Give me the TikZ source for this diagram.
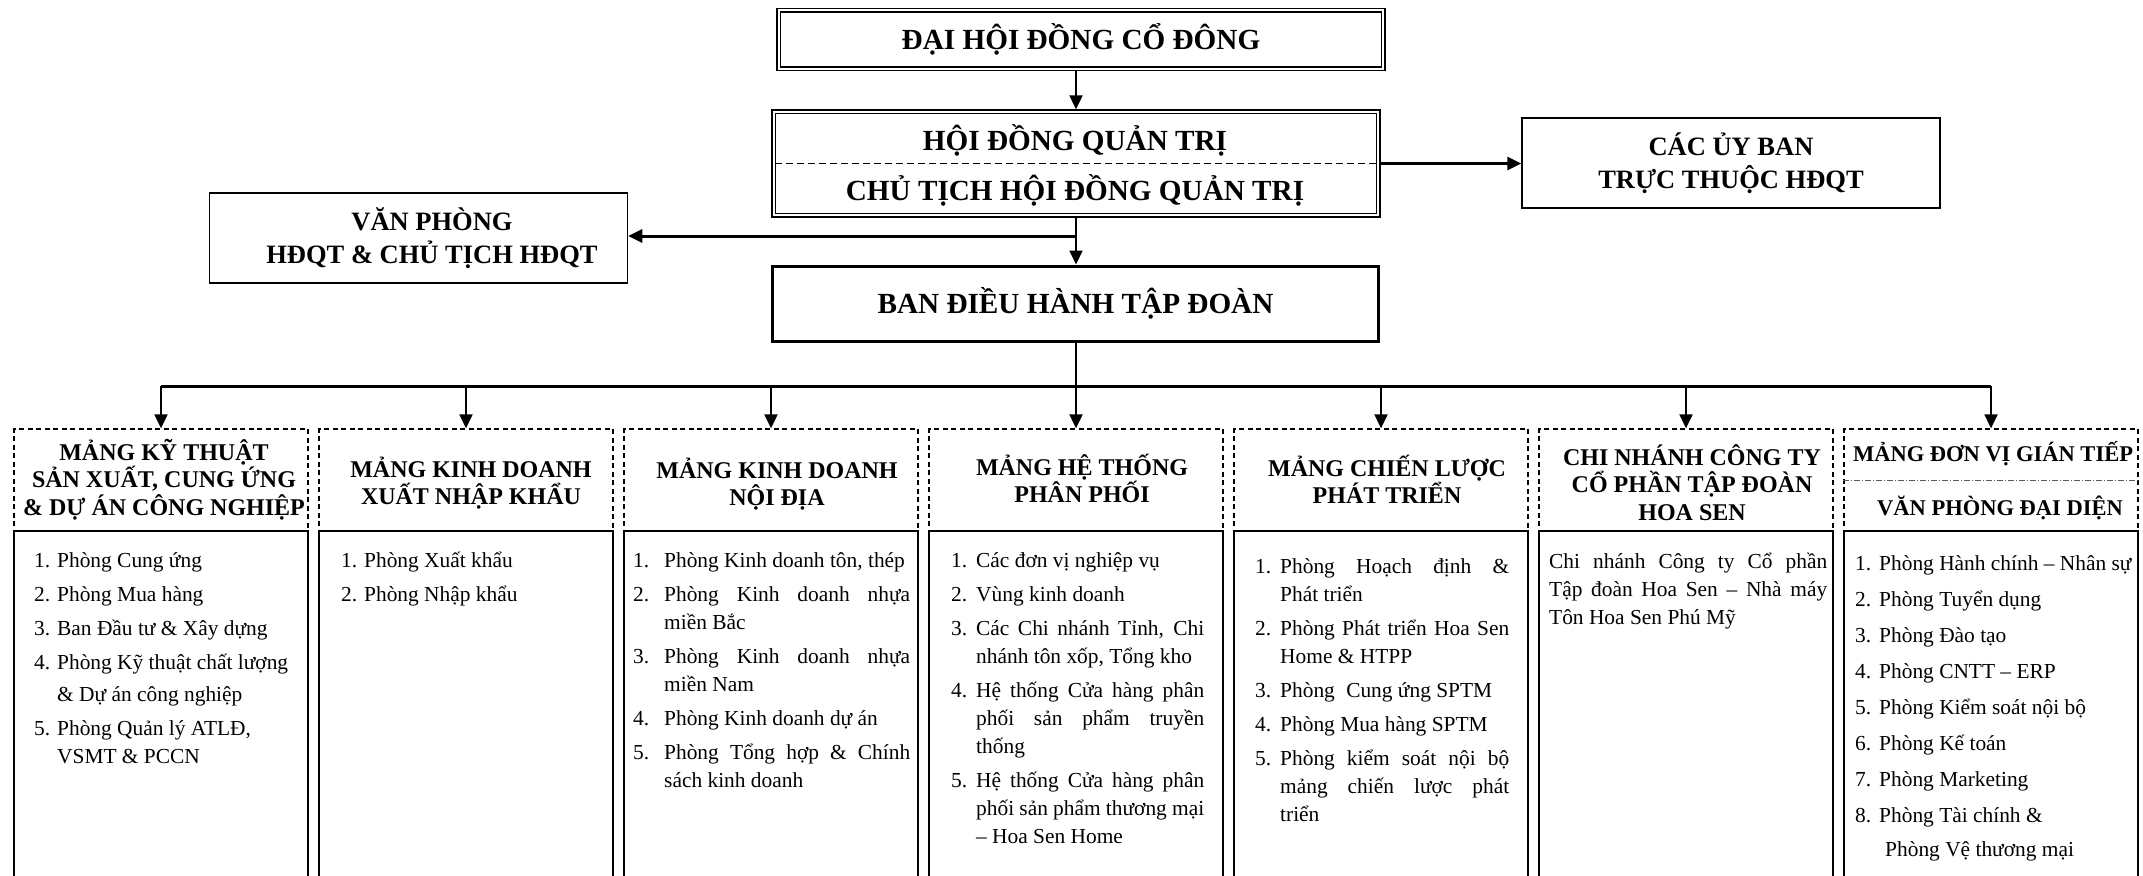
\documentclass[tikz,border=0pt]{standalone}
\usepackage{fontspec}
\setmainfont{Liberation Serif}
\usetikzlibrary{arrows.meta}
\newlength\igap
\setlength\igap{6pt}
\newcommand\jl[1]{\makebox[\linewidth][s]{\strut#1}\par}
\newcommand\lastl[1]{\mbox{\strut#1}\par}
\newcommand\bitem[3]{\noindent\makebox[#1][l]{\strut#2}\parbox[t]{\dimexpr\linewidth-#1\relax}{\lineskiplimit=-30pt\relax#3}\par\prevdepth=\dp\strutbox\vspace{\igap}}
\newcommand\bodyfont{\fontsize{21.4}{28}\selectfont\lineskiplimit=-30pt\relax}
\newcommand\bigfont{\bfseries\fontsize{29.2}{34}\selectfont}
\newcommand\sidefont{\bfseries\fontsize{26.5}{33}\selectfont}
\newcommand\colhead[1]{\begin{minipage}[t]{300pt}\centering\bfseries\fontsize{24}{27.5}\selectfont\lineskiplimit=-30pt\relax #1\end{minipage}}
\begin{document}
\begin{tikzpicture}[x=1pt,y=-1pt,
  arr/.style={-{Triangle[length=14pt,width=13pt]}, line width=2pt},
  bigbox/.style={draw, line width=1.3pt, inner sep=0, minimum width=608pt},
  sidebox/.style={draw, line width=1.5pt, inner sep=0, minimum width=418pt, minimum height=90pt},
  hdbox/.style={draw, dashed, dash pattern=on 5pt off 3.5pt, line width=1.3pt, inner sep=0, minimum width=294pt, minimum height=102pt},
  bodybox/.style={draw, line width=1.5pt, inner sep=0, minimum width=294pt, minimum height=400pt},
  txt/.style={anchor=base, inner sep=0},
  btxt/.style={anchor=base west, inner sep=0}]
\useasboundingbox (0,0) rectangle (2143,875);
\fill[white] (0,0) rectangle (2143,875);
\clip (0,0) rectangle (2143,875);

% top boxes
\node[bigbox, minimum height=62pt, font=\bigfont, text height=19.3pt, text depth=0pt] (dhd) at (1081,39.5) {ĐẠI HỘI ĐỒNG CỔ ĐÔNG};
\draw[line width=1.6pt] ([shift={(4,4)}]dhd.north west) rectangle ([shift={(-4,-4)}]dhd.south east);

\node[bigbox, minimum height=107pt] (hdqt) at (1076,163.5) {};
\draw[line width=1.6pt] ([shift={(4,4)}]hdqt.north west) rectangle ([shift={(-4,-4)}]hdqt.south east);
\draw[dash pattern=on 7pt off 4pt, line width=1.8pt] ([xshift=4pt]hdqt.west) -- ([xshift=-4pt]hdqt.east);
\node[txt, font=\bigfont] (hdqt1) at (1075,150) {HỘI ĐỒNG QUẢN TRỊ};
\node[txt, font=\bigfont] (hdqt2) at (1075,200) {CHỦ TỊCH HỘI ĐỒNG QUẢN TRỊ};

\node[sidebox] (uyban) at (1731,163) {};
\node[txt, font=\sidefont] (uyban1) at (1731,155.5) {CÁC ỦY BAN};
\node[txt, font=\sidefont] (uyban2) at (1731,188.5) {TRỰC THUỘC HĐQT};

\node[sidebox] (vp) at (418.5,238) {};
\node[txt, font=\sidefont] (vp1) at (432,230.5) {VĂN PHÒNG};
\node[txt, font=\sidefont] (vp2) at (432,263.5) {HĐQT \& CHỦ TỊCH HĐQT};

\node[draw, line width=3pt, inner sep=0, minimum width=606pt, minimum height=75pt, font=\bigfont, text height=19.3pt, text depth=0pt] (bdh) at (1075.5,303.5) {BAN ĐIỀU HÀNH TẬP ĐOÀN};

% top connectors
\draw[arr] (hdqt.north |- dhd.south) -- (hdqt.north);
\draw[arr, line width=3pt] (hdqt.east) -- (hdqt.east -| uyban.west);
\draw[arr] (hdqt.south) -- (hdqt.south |- bdh.north);
\coordinate (jn) at (1076,236);
\draw[arr, line width=3pt] (jn) -- (jn -| vp.east);

% column headers
\foreach \i/\cx in {1/161,2/466,3/771,4/1076,5/1381,6/1686,7/1991}{
  \node[hdbox] (h\i) at (\cx,480) {};
  \node[bodybox] (b\i) at (\cx,731) {};
}
\coordinate (s7) at (1991,480);
\draw[line width=0.9pt, gray!70!black, dash pattern=on 6pt off 2pt on 1pt off 2pt] (s7 -| h7.west) -- (s7 -| h7.east);

% bus
\coordinate (busL) at (161,386);
\coordinate (busR) at (1991,386);
\draw[line width=2pt] (bdh.south) -- (bdh.south |- busL);
\draw[line width=3pt] (busL) -- (busR);
\foreach \i in {1,...,7}{
  \draw[arr] (h\i.north |- busL) -- (h\i.north);
}

% header texts
\node[txt] (ht1) at (164,460) {\colhead{MẢNG KỸ THUẬT\\SẢN XUẤT, CUNG ỨNG\\\& DỰ ÁN CÔNG NGHIỆP}};
\node[txt] (ht2) at (471,477) {\colhead{MẢNG KINH DOANH\\XUẤT NHẬP KHẨU}};
\node[txt] (ht3) at (777,478) {\colhead{MẢNG KINH DOANH\\NỘI ĐỊA}};
\node[txt] (ht4) at (1082,475) {\colhead{MẢNG HỆ THỐNG\\PHÂN PHỐI}};
\node[txt] (ht5) at (1387,476) {\colhead{MẢNG CHIẾN LƯỢC\\PHÁT TRIỂN}};
\node[txt] (ht6) at (1692,465) {\colhead{CHI NHÁNH CÔNG TY\\CỔ PHẦN TẬP ĐOÀN\\HOA SEN}};
\node[txt, font=\bfseries\fontsize{22.5}{27}\selectfont] (ht7a) at (1993,461) {MẢNG ĐƠN VỊ GIÁN TIẾP};
\node[txt, font=\bfseries\fontsize{22.5}{27}\selectfont] (ht7b) at (2000,515) {VĂN PHÒNG ĐẠI DIỆN};

% bodies
\node[btxt] (t1) at (34,567) {\begin{minipage}[t]{266pt}\bodyfont
\bitem{23pt}{1.}{\lastl{Phòng Cung ứng}}
\bitem{23pt}{2.}{\lastl{Phòng Mua hàng}}
\bitem{23pt}{3.}{\lastl{Ban Đầu tư \& Xây dựng}}
\bitem{23pt}{4.}{\lastl{Phòng Kỹ thuật chất lượng}\vspace{4pt}\lastl{\& Dự án công nghiệp}}
\bitem{23pt}{5.}{\lastl{Phòng Quản lý ATLĐ,}\lastl{VSMT \& PCCN}}
\end{minipage}};

\node[btxt] (t2) at (341,567) {\begin{minipage}[t]{260pt}\bodyfont
\bitem{23pt}{1.}{\lastl{Phòng Xuất khẩu}}
\bitem{23pt}{2.}{\lastl{Phòng Nhập khẩu}}
\end{minipage}};

\node[btxt] (t3) at (633,567) {\begin{minipage}[t]{277pt}\bodyfont
\bitem{31pt}{1.}{\lastl{Phòng Kinh doanh tôn, thép}}
\bitem{31pt}{2.}{\jl{Phòng Kinh doanh nhựa}\lastl{miền Bắc}}
\bitem{31pt}{3.}{\jl{Phòng Kinh doanh nhựa}\lastl{miền Nam}}
\bitem{31pt}{4.}{\lastl{Phòng Kinh doanh dự án}}
\bitem{31pt}{5.}{\jl{Phòng Tổng hợp \& Chính}\lastl{sách kinh doanh}}
\end{minipage}};

\node[btxt] (t4) at (951,567) {\begin{minipage}[t]{253pt}\bodyfont
\bitem{25pt}{1.}{\lastl{Các đơn vị nghiệp vụ}}
\bitem{25pt}{2.}{\lastl{Vùng kinh doanh}}
\bitem{25pt}{3.}{\jl{Các Chi nhánh Tỉnh, Chi}\lastl{nhánh tôn xốp, Tổng kho}}
\bitem{25pt}{4.}{\jl{Hệ thống Cửa hàng phân}\jl{phối sản phẩm truyền}\lastl{thống}}
\bitem{25pt}{5.}{\jl{Hệ thống Cửa hàng phân}\jl{phối sản phẩm thương mại}\lastl{– Hoa Sen Home}}
\end{minipage}};

\node[btxt] (t5) at (1255,573) {\begin{minipage}[t]{254pt}\bodyfont
\bitem{25pt}{1.}{\jl{Phòng Hoạch định \&}\lastl{Phát triển}}
\bitem{25pt}{2.}{\jl{Phòng Phát triển Hoa Sen}\lastl{Home \& HTPP}}
\bitem{25pt}{3.}{\lastl{Phòng\hspace{6pt} Cung ứng SPTM}}
\bitem{25pt}{4.}{\lastl{Phòng Mua hàng SPTM}}
\bitem{25pt}{5.}{\jl{Phòng kiểm soát nội bộ}\jl{mảng chiến lược phát}\lastl{triển}}
\end{minipage}};

\node[btxt] (t6) at (1549,568) {\begin{minipage}[t]{278pt}\bodyfont
\jl{Chi nhánh Công ty Cổ phần}\jl{Tập đoàn Hoa Sen – Nhà máy}\lastl{Tôn Hoa Sen Phú Mỹ}
\end{minipage}};

\node[btxt] (t7) at (1855,570) {\begin{minipage}[t]{279pt}\fontsize{21.4}{34}\selectfont\lineskiplimit=-30pt\relax\setlength\igap{2pt}
\bitem{24pt}{1.}{\lastl{Phòng Hành chính – Nhân sự}}
\bitem{24pt}{2.}{\lastl{Phòng Tuyển dụng}}
\bitem{24pt}{3.}{\lastl{Phòng Đào tạo}}
\bitem{24pt}{4.}{\lastl{Phòng CNTT – ERP}}
\bitem{24pt}{5.}{\lastl{Phòng Kiểm soát nội bộ}}
\bitem{24pt}{6.}{\lastl{Phòng Kế toán}}
\bitem{24pt}{7.}{\lastl{Phòng Marketing}}
\bitem{24pt}{8.}{\lastl{Phòng Tài chính \&}\lastl{\hspace*{6pt}Phòng Vệ thương mại}}
\end{minipage}};
\end{tikzpicture}
\end{document}
